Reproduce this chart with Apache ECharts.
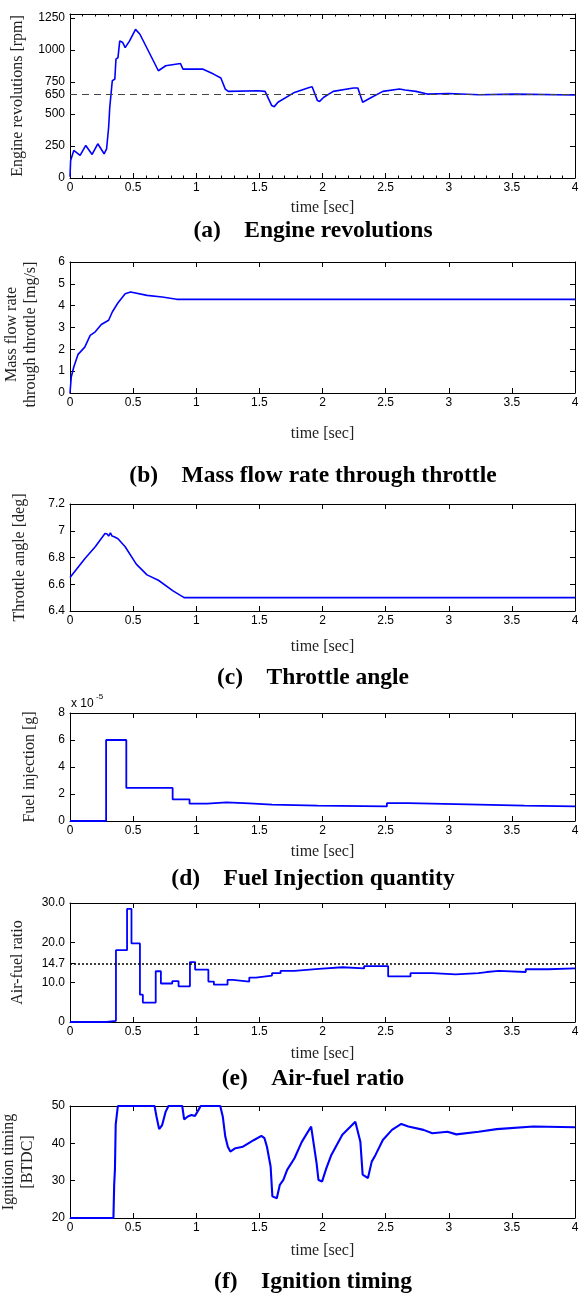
<!DOCTYPE html>
<html>
<head>
<meta charset="utf-8">
<script src="https://cdn.jsdelivr.net/npm/echarts@6/dist/echarts.min.js"></script>
<style>
  html, body { margin: 0; padding: 0; background: #fff; }
  #chart { width: 579px; height: 1295px; }
</style>
</head>
<body>
<div id="chart"></div>
<script>
// (a) engine revolutions [rpm]
const rpmTime = [0, 0.005, 0.03, 0.08, 0.125, 0.175, 0.22, 0.27, 0.29, 0.306, 0.315, 0.33, 0.335, 0.355, 0.364, 0.38, 0.394, 0.408, 0.418, 0.437, 0.472, 0.519, 0.554, 0.70, 0.758, 0.875, 0.895, 1.05, 1.137, 1.195, 1.23, 1.254, 1.487, 1.545, 1.598, 1.618, 1.647, 1.778, 1.895, 1.918, 1.96, 1.977, 2.01, 2.085, 2.245, 2.28, 2.318, 2.33, 2.39, 2.478, 2.61, 2.653, 2.74, 2.83, 3.0, 3.24, 3.53, 4.0];
const rpmValue = [10, 137, 215, 176, 254, 184, 267, 189, 228, 396, 552, 565, 759, 772, 927, 940, 1070, 1083, 1057, 1018, 1070, 1160, 1122, 837, 876, 894, 850, 850, 811, 780, 694, 676, 681, 676, 565, 557, 591, 668, 707, 712, 604, 598, 630, 676, 702, 702, 591, 591, 630, 676, 694, 687, 676, 655, 660, 650, 655, 648];
const rpmTicks = [0, 250, 500, 650, 750, 1000, 1250];
const rpmIdle = 650;

// (b) mass flow rate through throttle [mg/s]
const flowTime = [0, 0.01, 0.03, 0.064, 0.117, 0.16, 0.2, 0.248, 0.306, 0.335, 0.379, 0.437, 0.48, 0.61, 0.73, 0.845, 4.0];
const flowValue = [0, 0.73, 1.19, 1.77, 2.1, 2.64, 2.8, 3.14, 3.33, 3.71, 4.12, 4.55, 4.63, 4.47, 4.4, 4.29, 4.29];

// (c) throttle angle [deg]
const throttleTime = [0, 0.117, 0.2, 0.277, 0.295, 0.306, 0.32, 0.333, 0.35, 0.38, 0.437, 0.525, 0.61, 0.7, 0.816, 0.904, 4.0];
const throttleValue = [6.65, 6.79, 6.88, 6.98, 6.975, 6.96, 6.985, 6.96, 6.955, 6.94, 6.88, 6.75, 6.67, 6.63, 6.55, 6.50, 6.50];

// (d) fuel injection, in units of 1e-5 g (value held until next time)
const fuelTime = [0, 0.286, 0.446, 0.813, 0.947, 1.087, 1.24, 1.42, 1.6, 1.96, 2.51, 2.68, 3.24, 3.6, 4.0];
const fuelValue = [0, 6.0, 2.45, 1.6, 1.28, 1.38, 1.31, 1.22, 1.14, 1.08, 1.32, 1.22, 1.14, 1.08, 1.08];

// (e) air-fuel ratio (value held until next time)
const afrTime = [0, 0.29, 0.364, 0.452, 0.487, 0.554, 0.577, 0.679, 0.72, 0.81, 0.86, 0.95, 0.991, 1.096, 1.14, 1.248, 1.29, 1.42, 1.472, 1.6, 1.668, 1.778, 1.85, 1.97, 2.157, 2.33, 2.52, 2.697, 2.87, 3.055, 3.236, 3.3, 3.397, 3.61, 3.79, 4.0];
const afrValue = [0, 0.3, 18.1, 28.5, 19.8, 6.9, 4.9, 12.8, 9.7, 10.3, 9.0, 15.1, 13.2, 10.2, 9.4, 10.6, 10.2, 11.2, 11.7, 12.3, 12.9, 13.1, 13.4, 13.8, 13.5, 14.1, 11.5, 12.3, 12.0, 12.3, 12.6, 12.9, 12.6, 13.3, 13.5, 13.5];
const afrTicks = [0, 10, 14.7, 20, 30];
const afrStoich = 14.7;

// (f) ignition timing [BTDC]
const ignTime = [0, 0.344, 0.35, 0.356, 0.362, 0.368, 0.379, 0.67, 0.685, 0.706, 0.73, 0.758, 0.78, 0.889, 0.904, 0.933, 0.962, 0.99, 1.02, 1.035, 1.19, 1.21, 1.23, 1.25, 1.27, 1.31, 1.37, 1.458, 1.516, 1.54, 1.56, 1.589, 1.603, 1.638, 1.662, 1.69, 1.72, 1.778, 1.836, 1.91, 1.924, 1.953, 1.968, 1.997, 2.03, 2.07, 2.157, 2.26, 2.274, 2.3, 2.318, 2.36, 2.39, 2.42, 2.478, 2.55, 2.624, 2.68, 2.8, 2.87, 2.99, 3.06, 3.236, 3.38, 3.67, 4.0];
const ignValue = [20, 20, 29, 33, 45, 45, 50, 50, 47.2, 43.8, 44.9, 48.5, 50, 50, 46.4, 47.2, 47.6, 47.3, 49.1, 50, 50, 47.2, 41.8, 39.1, 37.8, 38.7, 39.1, 40.9, 42.0, 41.4, 39.1, 33.8, 25.8, 25.3, 28.9, 30.2, 32.9, 36.0, 40.4, 44.5, 44.5, 34.7, 30.2, 29.8, 33.3, 36.9, 42.3, 45.8, 46.3, 40.4, 31.6, 30.7, 35.1, 36.9, 40.9, 43.6, 45.2, 44.5, 43.6, 42.7, 43.1, 42.4, 43.1, 43.8, 44.5, 44.3];

const zip = (xs, ys) => xs.map((x, i) => [x, ys[i]]);

const SANS = '"Liberation Sans", Arial, Helvetica, sans-serif';
const SERIF = '"Liberation Serif", "Times New Roman", serif';
const BLUE = '#0000ff';

// one entry per subplot: plot box (top/bottom px), axes and caption
const panels = [
  { top: 14, bottom: 178, yMin: 0, yMax: 1280, yTicks: rpmTicks, yName: 'Engine revolutions [rpm]', yGap: 42, xGap: 22,
    data: zip(rpmTime, rpmValue), minor: true, mark: { y: rpmIdle, color: '#444', type: [7, 5], width: 1 },
    caption: '(a)    Engine revolutions', capY: 231 },
  { top: 262, bottom: 393, yMin: 0, yMax: 6, yInterval: 1, yName: 'Mass flow rate\nthrough throttle [mg/s]', yGap: 30, xGap: 33,
    namePad: [0, 0, 0, -14],
    data: zip(flowTime, flowValue), caption: '(b)    Mass flow rate through throttle', capY: 476 },
  { top: 504, bottom: 611, yMin: 6.4, yMax: 7.2, yInterval: 0.2, yName: 'Throttle angle [deg]', yGap: 41, xGap: 28,
    data: zip(throttleTime, throttleValue), caption: '(c)    Throttle angle', capY: 678 },
  { top: 713, bottom: 821, yMin: 0, yMax: 8, yInterval: 2, yName: 'Fuel injection [g]', yGap: 31, xGap: 23,
    data: zip(fuelTime, fuelValue), step: 'end', width: 1.8, caption: '(d)    Fuel Injection quantity', capY: 879 },
  { top: 903, bottom: 1022, yMin: 0, yMax: 30, yTicks: afrTicks, yName: 'Air-fuel ratio', yGap: 43, xGap: 24,
    fmt: v => (v === 0 ? '0' : v.toFixed(1)),
    data: zip(afrTime, afrValue), step: 'end', width: 1.8, mark: { y: afrStoich, color: '#000', type: [2, 2], width: 1.5 },
    caption: '(e)    Air-fuel ratio', capY: 1079 },
  { top: 1106, bottom: 1218, yMin: 20, yMax: 50, yInterval: 10, yName: 'Ignition timing\n[BTDC]', yGap: 33, xGap: 25,
    data: zip(ignTime, ignValue), width: 2.1, caption: '(f)    Ignition timing', capY: 1282 }
];

const axisLine = { show: true, onZero: false, lineStyle: { color: '#000', width: 1 } };
const tick = { show: true, inside: true, length: 5, lineStyle: { color: '#000', width: 1 } };
const label = { color: '#000', fontFamily: SANS, fontSize: 12, formatter: v => String(v) };

const grid = [], xAxis = [], yAxis = [], series = [], graphic = [];

panels.forEach((p, i) => {
  grid.push({ left: 70, right: 4, top: p.top, height: p.bottom - p.top, show: false, containLabel: false, outerBoundsMode: 'none' });

  const xBase = { type: 'value', gridIndex: i, min: 0, max: 4, interval: 0.5, splitLine: { show: false }, axisLine };
  const minorTick = { show: !!p.minor, splitNumber: 5, length: 2.5, lineStyle: { color: '#000', width: 1 } };
  xAxis.push(Object.assign({}, xBase, {
    position: 'bottom', axisTick: tick, minorTick,
    axisLabel: Object.assign({ margin: 4, hideOverlap: false }, label),
    name: 'time [sec]', nameLocation: 'middle', nameGap: p.xGap,
    nameTextStyle: { fontFamily: SERIF, fontSize: 16, color: '#222' }
  }));
  xAxis.push(Object.assign({}, xBase, { position: 'top', axisTick: tick, minorTick, axisLabel: { show: false } }));

  const yBase = { type: 'value', gridIndex: i, min: p.yMin, max: p.yMax, splitLine: { show: false }, axisLine };
  if (p.yInterval) yBase.interval = p.yInterval;
  const yTick = Object.assign({}, tick, p.yTicks ? { customValues: p.yTicks } : {});
  const yLabel = Object.assign({ margin: 5 }, label, p.yTicks ? { customValues: p.yTicks } : {}, p.fmt ? { formatter: p.fmt } : {});
  const nameStyle = { fontFamily: SERIF, fontSize: 16, color: '#222', lineHeight: 19 };
  if (p.namePad) nameStyle.padding = p.namePad;
  yAxis.push(Object.assign({}, yBase, {
    position: 'left', axisTick: yTick, axisLabel: yLabel,
    name: p.yName, nameLocation: 'middle', nameGap: p.yGap, nameTextStyle: nameStyle
  }));
  yAxis.push(Object.assign({}, yBase, { position: 'right', axisTick: yTick, axisLabel: { show: false } }));

  const s = {
    type: 'line', xAxisIndex: 2 * i, yAxisIndex: 2 * i, data: p.data,
    symbol: 'none', showSymbol: false, silent: true,
    lineStyle: { color: BLUE, width: p.width || 1.6 }
  };
  if (p.step) s.step = p.step;
  if (p.mark) {
    s.markLine = {
      silent: true, symbol: 'none', label: { show: false },
      lineStyle: { color: p.mark.color, type: p.mark.type, width: p.mark.width },
      data: [{ yAxis: p.mark.y }]
    };
  }
  series.push(s);

  graphic.push({
    type: 'text', x: 313, y: p.capY,
    style: { text: p.caption, fontFamily: SERIF, fontWeight: 'bold', fontSize: 23.5, fill: '#000', align: 'center', verticalAlign: 'middle' }
  });
});

// exponent note of the fuel injection axis
graphic.push({ type: 'text', x: 71, y: 704, style: { text: 'x 10', fontFamily: SANS, fontSize: 12, fill: '#000', verticalAlign: 'middle' } });
graphic.push({ type: 'text', x: 96, y: 697, style: { text: '-5', fontFamily: SANS, fontSize: 8, fill: '#000', verticalAlign: 'middle' } });

const chart = echarts.init(document.getElementById('chart'));
chart.setOption({
  animation: false,
  backgroundColor: '#fff',
  textStyle: { fontFamily: SANS },
  grid, xAxis, yAxis, series, graphic
});
</script>
</body>
</html>
